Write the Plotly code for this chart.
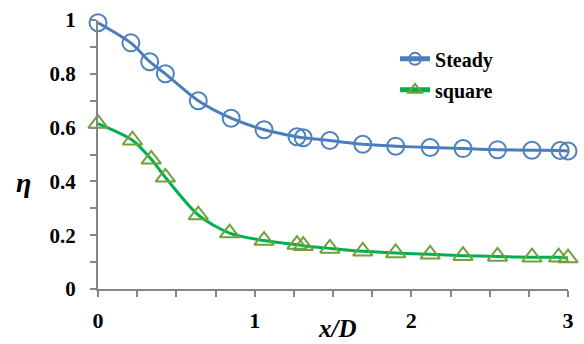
import plotly.graph_objects as go

# Downstream distance x/D and effectiveness eta for the two cases
x_steady = [0, 0.21, 0.33, 0.43, 0.64, 0.85, 1.06, 1.27, 1.31, 1.48, 1.69, 1.90, 2.12, 2.33, 2.55, 2.77, 2.95, 3.0]
eta_steady = [0.99, 0.915, 0.845, 0.80, 0.70, 0.635, 0.592, 0.566, 0.562, 0.552, 0.538, 0.531, 0.526, 0.522, 0.518, 0.516, 0.515, 0.513]

x_square = [0, 0.22, 0.34, 0.43, 0.64, 0.84, 1.06, 1.27, 1.31, 1.48, 1.69, 1.90, 2.12, 2.33, 2.55, 2.77, 2.94, 3.0]
eta_square = [0.615, 0.553, 0.482, 0.415, 0.275, 0.208, 0.180, 0.165, 0.161, 0.151, 0.140, 0.134, 0.129, 0.124, 0.121, 0.118, 0.118, 0.115]

# Tick positions: labelled majors plus unlabelled minors
x_tickvals = [0, 0.25, 0.5, 0.75, 1, 1.25, 1.5, 1.75, 2, 2.25, 2.5, 2.75, 3]
x_ticktext = ["0", "", "", "", "1", "", "", "", "2", "", "", "", "3"]
y_tickvals = [0, 0.1, 0.2, 0.3, 0.4, 0.5, 0.6, 0.7, 0.8, 0.9, 1]
y_ticktext = ["0", "", "0.2", "", "0.4", "", "0.6", "", "0.8", "", "1"]

FONT = "Times New Roman"
AXIS_GRAY = "#868686"

fig = go.Figure()

fig.add_trace(go.Scatter(
    x=x_steady, y=eta_steady, name="Steady", mode="lines+markers",
    line=dict(color="#4A7EBB", width=3, shape="spline", smoothing=0.8),
    marker=dict(symbol="circle-open", size=17, color="#4F81BD", line=dict(width=2)),
    cliponaxis=False, legendgroup="a",
))
fig.add_trace(go.Scatter(
    x=x_square, y=eta_square, name="square", mode="lines+markers",
    line=dict(color="#00B050", width=3, shape="spline", smoothing=0.8),
    marker=dict(symbol="triangle-up-open", size=17, color="#6FA23A", line=dict(width=2)),
    cliponaxis=False, legendgroup="b",
))

fig.update_layout(
    width=584, height=344,
    margin=dict(l=98, r=16, t=20, b=55, autoexpand=False),
    paper_bgcolor="white", plot_bgcolor="white",
    font=dict(family=FONT, color="black"),
    showlegend=True,
    legend=dict(
        x=0.632, y=0.928, xanchor="left", yanchor="top",
        bgcolor="rgba(0,0,0,0)", borderwidth=0,
        font=dict(family=FONT, size=20, color="black", weight="bold"),
        tracegroupgap=2, traceorder="grouped", itemsizing="constant",
    ),
    xaxis=dict(
        range=[0, 3], tickmode="array", tickvals=x_tickvals, ticktext=x_ticktext,
        showgrid=False, zeroline=False, showline=True,
        linecolor=AXIS_GRAY, linewidth=2,
        ticks="outside", ticklen=6, tickwidth=2, tickcolor=AXIS_GRAY,
        tickfont=dict(family=FONT, size=22, color="black", weight="bold"),
        ticklabelstandoff=5,
    ),
    yaxis=dict(
        range=[0, 1], tickmode="array", tickvals=y_tickvals, ticktext=y_ticktext,
        showgrid=False, zeroline=False, showline=True,
        linecolor=AXIS_GRAY, linewidth=2,
        ticks="outside", ticklen=6, tickwidth=2, tickcolor=AXIS_GRAY,
        tickfont=dict(family=FONT, size=21, color="black", weight="bold"),
        ticklabelstandoff=10,
    ),
    annotations=[
        dict(text="<b><i>x/D</i></b>", x=0.51, xref="paper", y=-0.147, yref="paper",
             xanchor="center", yanchor="middle", showarrow=False,
             font=dict(family=FONT, size=25, color="black")),
        dict(text="<b><i>η</i></b>", x=-0.158, xref="paper", y=0.395, yref="paper",
             xanchor="center", yanchor="middle", showarrow=False,
             font=dict(family=FONT, size=28, color="black")),
    ],
)

fig.write_html("out.html")
